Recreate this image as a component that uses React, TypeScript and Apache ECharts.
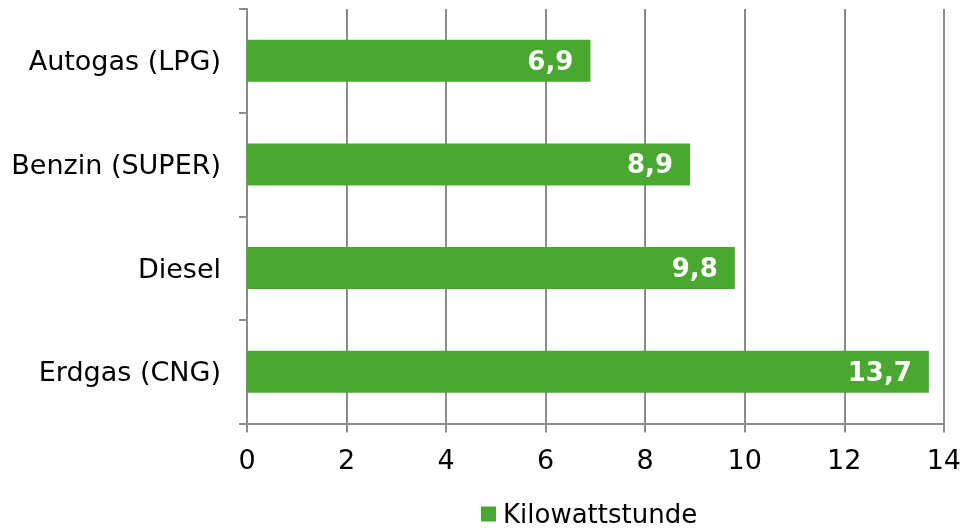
import React, { useEffect, useRef } from "react";
import * as echarts from "echarts";

const categories = ["Autogas (LPG)", "Benzin (SUPER)", "Diesel", "Erdgas (CNG)"];
const values = [6.9, 8.9, 9.8, 13.7];
const seriesName = "Kilowattstunde";
const xMin = 0;
const xMax = 14;
const xInterval = 2;

const FONT = "DejaVu Sans, Verdana, sans-serif";

export default function App() {
  const ref = useRef<HTMLDivElement>(null);
  useEffect(() => {
    if (!ref.current) return;
    const chart = echarts.init(ref.current, undefined, { renderer: "svg" });
    chart.setOption({
      animation: false,
      grid: { left: 247, right: 19, top: 9, bottom: 104.5, containLabel: false },
      legend: {
        top: 494,
        left: 476,
        icon: "rect",
        itemWidth: 15,
        itemHeight: 15,
        itemGap: 10,
        textStyle: { fontFamily: FONT, fontSize: 26, lineHeight: 30, color: "#000", padding: [0, 0, 0, 2] },
        data: [seriesName],
      },
      xAxis: {
        type: "value",
        min: xMin,
        max: xMax,
        interval: xInterval,
        axisLine: { show: true, lineStyle: { color: "#8c8c8c", width: 2 } },
        axisTick: { show: true, length: 9, lineStyle: { color: "#8c8c8c", width: 2 } },
        axisLabel: { fontFamily: FONT, fontSize: 27, color: "#000", margin: 22 },
        splitLine: { show: true, lineStyle: { color: "#8c8c8c", width: 2 } },
      },
      yAxis: {
        type: "category",
        data: categories,
        inverse: true,
        axisLine: { show: true, lineStyle: { color: "#8c8c8c", width: 2 } },
        axisTick: { show: true, length: 8, lineStyle: { color: "#8c8c8c", width: 2 } },
        axisLabel: { fontFamily: FONT, fontSize: 27, color: "#000", margin: 26 },
        splitLine: { show: false },
      },
      series: [
        {
          name: seriesName,
          type: "bar",
          data: values,
          barWidth: 42,
          itemStyle: { color: "#4aa72f" },
          label: {
            show: true,
            position: "insideRight",
            distance: 17,
            color: "#fff",
            fontFamily: FONT,
            fontWeight: "bold",
            fontSize: 26,
            formatter: (p: any) => String(p.value).replace(".", ","),
          },
        },
      ],
    });
    return () => chart.dispose();
  }, []);
  return (
    <div
      ref={ref}
      style={{ position: "fixed", left: 0, top: 0, width: 964, height: 528 }}
    />
  );
}
